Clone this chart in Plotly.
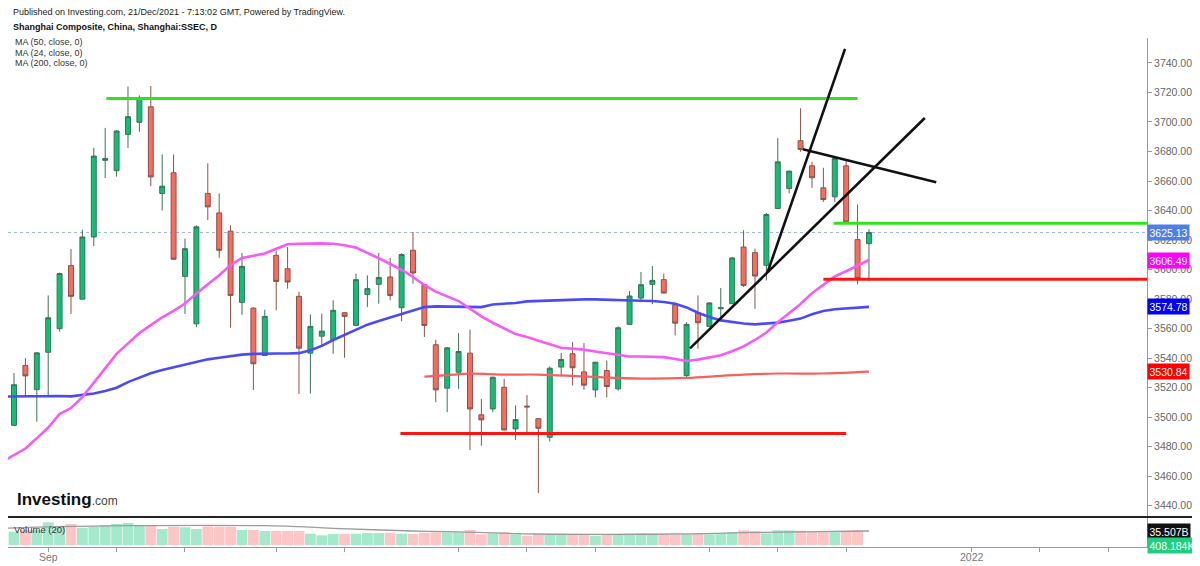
import plotly.graph_objects as go

# Shanghai Composite daily candles, 26 Aug - 21 Dec 2021 (bar index 1..77)
bar_idx = list(range(1, 78))
opens = [3537.3, 3494.5, 3535.0, 3518.7, 3544.0, 3560.0, 3602.7, 3580.0, 3622.1, 3674.0,
         3667.0, 3691.6, 3699.8, 3710.3, 3651.6, 3665.6, 3595.4, 3563.3, 3651.6, 3638.4,
         3626.0, 3577.8, 3573.9, 3541.8, 3609.7, 3600.6, 3581.9, 3543.4, 3554.9, 3552.5,
         3570.8, 3562.2, 3583.2, 3590.0, 3595.0, 3574.2, 3613.1, 3589.8, 3549.1, 3519.7,
         3530.5, 3543.4, 3501.6, 3505.6, 3520.3, 3492.1, 3507.5, 3499.0, 3486.4, 3534.0,
         3543.0, 3530.7, 3518.5, 3531.6, 3519.2, 3562.9, 3580.7, 3590.0, 3593.2, 3576.2,
         3528.2, 3570.5, 3561.5, 3573.5, 3576.9, 3615.3, 3611.5, 3602.9, 3641.4, 3655.0,
         3687.3, 3670.3, 3655.4, 3649.3, 3670.3, 3620.3, 3617.6]
highs = [3541.0, 3530.0, 3540.0, 3544.0, 3582.5, 3598.0, 3614.0, 3627.0, 3682.5, 3696.0,
         3694.5, 3724.0, 3718.0, 3724.4, 3678.0, 3678.0, 3621.0, 3630.0, 3672.0, 3651.6,
         3630.0, 3611.3, 3574.5, 3572.8, 3613.0, 3615.3, 3585.0, 3569.6, 3570.1, 3579.2,
         3571.0, 3597.3, 3596.1, 3611.3, 3607.9, 3611.0, 3625.5, 3590.0, 3552.5, 3547.5,
         3557.0, 3559.3, 3512.4, 3527.5, 3526.0, 3508.0, 3515.0, 3499.5, 3534.4, 3543.6,
         3550.9, 3550.2, 3537.5, 3538.4, 3561.5, 3585.5, 3598.4, 3602.5, 3597.3, 3576.5,
         3564.4, 3582.5, 3578.0, 3587.5, 3608.6, 3626.7, 3614.2, 3638.4, 3689.0, 3667.0,
         3709.3, 3673.0, 3669.0, 3676.4, 3673.5, 3644.1, 3627.3]
lows = [3500.0, 3494.0, 3514.0, 3497.0, 3515.0, 3558.0, 3570.0, 3580.0, 3616.0, 3662.0,
        3663.0, 3682.5, 3693.4, 3656.5, 3640.0, 3607.0, 3570.0, 3561.0, 3633.5, 3608.0,
        3560.6, 3569.4, 3518.5, 3541.5, 3572.4, 3587.1, 3515.8, 3516.0, 3548.6, 3543.0,
        3540.3, 3562.0, 3574.6, 3576.9, 3579.2, 3565.0, 3590.5, 3554.3, 3510.1, 3503.4,
        3519.2, 3477.8, 3480.7, 3503.4, 3491.0, 3484.6, 3489.0, 3448.6, 3483.5, 3527.6,
        3521.5, 3518.5, 3513.5, 3513.5, 3518.0, 3562.9, 3578.0, 3576.6, 3584.0, 3555.4,
        3527.0, 3546.4, 3561.0, 3567.8, 3576.9, 3588.2, 3573.5, 3592.7, 3641.0, 3651.6,
        3679.8, 3655.4, 3645.9, 3645.9, 3632.0, 3590.0, 3592.3]
closes = [3502.2, 3522.0, 3528.0, 3543.6, 3567.4, 3597.3, 3581.9, 3622.1, 3676.9, 3675.3,
          3693.9, 3703.6, 3716.0, 3662.8, 3656.5, 3607.0, 3614.2, 3629.0, 3642.5, 3613.1,
          3582.5, 3602.2, 3536.2, 3568.3, 3592.0, 3591.6, 3546.8, 3561.5, 3558.3, 3572.4,
          3568.3, 3593.2, 3587.1, 3594.7, 3582.5, 3610.2, 3597.7, 3562.2, 3518.5, 3547.0,
          3544.5, 3505.6, 3498.2, 3527.1, 3491.4, 3498.4, 3507.0, 3492.5, 3533.2, 3539.1,
          3533.5, 3521.7, 3537.3, 3520.8, 3560.6, 3582.1, 3589.8, 3592.7, 3584.1, 3563.7,
          3562.9, 3564.0, 3577.4, 3574.2, 3607.9, 3589.3, 3595.6, 3637.3, 3673.0, 3666.7,
          3681.4, 3662.2, 3647.5, 3675.3, 3632.3, 3593.9, 3625.13]

# volume in billions
volumes = [42.4, 33.7, 38.0, 38.0, 57.6, 48.9, 53.3, 43.9, 46.4, 50.7,
           53.3, 55.8, 48.9, 48.9, 40.6, 46.4, 44.9, 40.6, 47.4, 46.4,
           46.4, 38.0, 38.0, 35.5, 35.5, 35.5, 35.5, 28.7, 24.6, 27.9,
           27.9, 28.7, 30.4, 30.4, 31.2, 28.7, 27.9, 31.2, 32.2, 32.2,
           32.2, 38.0, 27.1, 29.7, 32.2, 27.1, 23.6, 27.1, 27.1, 25.4,
           27.1, 27.1, 23.6, 27.1, 27.1, 28.7, 29.7, 28.7, 25.4, 25.4,
           27.1, 29.7, 27.1, 29.7, 32.2, 37.3, 35.5, 29.7, 37.3, 37.3,
           36.3, 32.2, 32.2, 32.2, 35.5, 37.3, 0.000408]
vol_ma_idx = [1, 6, 12, 24, 27, 30, 37, 40, 48, 60, 66, 77]
vol_ma = [42.4, 46.4, 48.9, 48.9, 46.4, 42.4, 35.5, 33.7, 27.9, 27.9, 31.2, 35.507]

ma24 = [3470.0, 3474.3, 3478.8, 3485.7, 3493.0, 3502.1, 3506.2, 3513.6, 3523.4, 3533.8,
        3542.9, 3550.0, 3557.0, 3562.4, 3567.7, 3572.1, 3577.0, 3583.8, 3590.0, 3596.2,
        3603.1, 3607.9, 3609.4, 3610.9, 3614.1, 3617.2, 3617.5, 3617.8, 3617.8, 3617.5,
        3616.5, 3614.9, 3611.5, 3607.7, 3603.8, 3599.9, 3595.0, 3589.6, 3585.1, 3581.9,
        3578.7, 3573.6, 3568.3, 3564.0, 3559.9, 3556.3, 3554.3, 3552.1, 3549.5, 3547.1,
        3546.5, 3545.8, 3544.5, 3543.2, 3542.0, 3541.1, 3541.1, 3541.1, 3540.7, 3539.4,
        3538.1, 3539.0, 3540.7, 3542.0, 3544.7, 3548.0, 3552.3, 3557.4, 3564.3, 3570.4,
        3576.7, 3584.0, 3589.9, 3595.4, 3598.9, 3602.6, 3606.49]
ma50 = [3514.0, 3514.1, 3514.3, 3514.5, 3514.7, 3514.4, 3514.1, 3514.9, 3516.1, 3517.7,
        3520.0, 3523.8, 3527.0, 3529.8, 3532.0, 3533.9, 3535.4, 3537.3, 3539.2, 3540.3,
        3541.4, 3542.4, 3542.9, 3543.2, 3543.2, 3543.2, 3543.4, 3545.4, 3548.3, 3552.3,
        3555.8, 3559.2, 3562.7, 3565.2, 3567.6, 3569.9, 3572.6, 3574.6, 3575.1, 3575.1,
        3575.1, 3574.7, 3574.6, 3576.4, 3576.8, 3577.4, 3578.5, 3578.8, 3579.1, 3579.4,
        3579.8, 3579.8, 3579.8, 3579.7, 3579.4, 3579.2, 3578.9, 3578.7, 3578.1, 3576.9,
        3574.4, 3570.8, 3567.9, 3565.6, 3564.3, 3563.5, 3562.9, 3563.5, 3564.1, 3565.4,
        3566.8, 3569.8, 3571.9, 3573.1, 3573.5, 3574.0, 3574.78]
ma200_idx = [38, 40, 42, 45, 48, 51, 54, 57, 61, 64, 66, 69, 73, 77]
ma200 = [3527.5, 3528.5, 3529.5, 3528.9, 3528.9, 3528.0, 3526.8, 3526.2, 3526.6,
         3528.0, 3528.9, 3529.6, 3529.6, 3530.84]

# drawn support / resistance levels
level_price = [3715.9, 3488.9, 3631.4, 3593.4]
level_from = [10.1, 35.9, 73.9, 73.0]
level_to = [76.0, 75.0, 102.0, 102.0]
level_color = ["#2ee51c", "#ff1414", "#2ee51c", "#ff1414"]

# drawn trend lines
trend_x0 = [61.3, 68.1, 71.2]
trend_y0 = [3546.6, 3598.1, 3681.6]
trend_x1 = [81.9, 74.9, 82.9]
trend_y1 = [3702.7, 3749.5, 3659.2]

tick_idx = [5, 11, 17, 25, 31, 41, 47, 53, 63, 69, 75, 86, 92, 98]
tick_text = ["Sep", "", "", "", "", "", "", "", "", "", "", "2022", "", ""]
price_ticks = list(range(3440, 3741, 20))

FONT = "Liberation Sans, Arial, sans-serif"
GREEN = "#0cc075"
RED = "#fb6b5c"

# the page adds an 8px body margin, so the figure is laid out in page pixels minus 8
W, H, OFF = 1192, 558, 8


def px(x):
    return (x - OFF) / W


def py(y):
    return 1 - (y - OFF) / H


fig = go.Figure()

# volume pane
vol_colors = ["#a5e9cd" if c >= o else "#fdc5c5" for o, c in zip(opens, closes)]
fig.add_trace(go.Bar(x=bar_idx, y=volumes, marker=dict(color=vol_colors, line=dict(width=0)),
                     width=0.95, yaxis="y2", hoverinfo="skip"))
fig.add_trace(go.Scatter(x=vol_ma_idx, y=vol_ma, mode="lines",
                         line=dict(color="#9c9c9c", width=1.3, shape="spline"),
                         yaxis="y2", hoverinfo="skip"))

# moving averages
fig.add_trace(go.Scatter(x=bar_idx, y=ma50, mode="lines", line=dict(color="#4b4bf5", width=2.6)))
fig.add_trace(go.Scatter(x=bar_idx, y=ma24, mode="lines", line=dict(color="#f55cf5", width=2.6)))
fig.add_trace(go.Scatter(x=ma200_idx, y=ma200, mode="lines",
                         line=dict(color="#f76060", width=2.2, shape="spline")))

# candles
fig.add_trace(go.Candlestick(
    x=bar_idx, open=opens, high=highs, low=lows, close=closes,
    increasing=dict(fillcolor=GREEN, line=dict(color="#3f7058", width=1)),
    decreasing=dict(fillcolor=RED, line=dict(color="#8a5249", width=1)),
    whiskerwidth=0,
))

# levels and trend lines
for p, a, b, c in zip(level_price, level_from, level_to, level_color):
    fig.add_trace(go.Scatter(x=[a, b], y=[p, p], mode="lines", line=dict(color=c, width=3),
                             hoverinfo="skip"))
for a, b, c, d in zip(trend_x0, trend_y0, trend_x1, trend_y1):
    fig.add_trace(go.Scatter(x=[a, c], y=[b, d], mode="lines",
                             line=dict(color="#111111", width=2.6), hoverinfo="skip"))

x_right = px(1147)
fig.update_layout(
    width=W, height=H,
    margin=dict(l=0, r=0, t=0, b=0),
    paper_bgcolor="white", plot_bgcolor="white",
    showlegend=False,
    boxgap=0.38,
    font=dict(family=FONT, color="#333"),
    xaxis=dict(domain=[0, x_right], range=[1.474, 101.39], anchor="y2",
               tickvals=tick_idx, showticklabels=False, ticks="outside", ticklen=4,
               tickcolor="#999", showline=True, linecolor="#999", linewidth=1,
               showgrid=False, zeroline=False, rangeslider=dict(visible=False),
               automargin=False),
    yaxis=dict(domain=[py(517), py(38)], range=[3432.4, 3756.9], anchor="x",
               side="right", tickvals=price_ticks, tickformat=".2f", ticks="outside",
               ticklen=4, tickcolor="#999", showline=True, linecolor="#999",
               showgrid=False, zeroline=False, tickfont=dict(size=10.5, color="#666"),
               automargin=False),
    yaxis2=dict(domain=[py(547), py(517)], range=[-5.07, 71.0], anchor="x",
                side="right", showticklabels=False, showline=True, linecolor="#999",
                showgrid=False, zeroline=False, automargin=False),
)

# date labels under the ticks
for v, t in zip(tick_idx, tick_text):
    if t:
        fig.add_annotation(x=v, xref="x", y=py(557), yref="paper", text=t, showarrow=False,
                           xanchor="center", yanchor="middle",
                           font=dict(size=10.5, color="#777", family=FONT))

# last price dotted line
fig.add_shape(type="line", xref="x domain", yref="y", x0=0, x1=1, y0=closes[-1], y1=closes[-1],
              line=dict(color="#9fb5ee", width=1, dash="dot"), layer="below")
# pane separator
fig.add_shape(type="line", xref="paper", yref="paper", x0=0, x1=px(1197),
              y0=py(517), y1=py(517), line=dict(color="#222", width=2))

# value tags on the price scale
tags = [(closes[-1], "#4f7ee6"), (ma24[-1], "#ff00ff"), (ma50[-1], "#0000ff"), (ma200[-1], "#ff0000")]
for val, col in tags:
    fig.add_annotation(x=x_right, xref="paper", y=val, yref="y", text=f"{val:.2f}",
                       showarrow=False, xanchor="left", bgcolor=col, borderpad=1.5,
                       font=dict(size=10.5, color="white", family=FONT))
fig.add_annotation(x=x_right, xref="paper", y=vol_ma[-1], yref="y2", text="35.507B",
                   showarrow=False, xanchor="left", bgcolor="#111", borderpad=1.5,
                   font=dict(size=10.5, color="white", family=FONT))
fig.add_annotation(x=x_right, xref="paper", y=volumes[-1] - 1.5, yref="y2", text="408.184K",
                   showarrow=False, xanchor="left", bgcolor="#1fcf80", borderpad=1.5,
                   font=dict(size=10.5, color="white", family=FONT))

# header texts
fig.add_annotation(x=px(11), y=py(12.5), xref="paper", yref="paper", xanchor="left",
                   yanchor="middle", showarrow=False,
                   text="Published on Investing.com, 21/Dec/2021 - 7:13:02 GMT, Powered by TradingView.",
                   font=dict(size=9, color="#222", family=FONT))
fig.add_annotation(x=px(11), y=py(27), xref="paper", yref="paper", xanchor="left",
                   yanchor="middle", showarrow=False,
                   text="<b>Shanghai Composite, China, Shanghai:SSEC, D</b>",
                   font=dict(size=9, color="#111", family=FONT))
for i, t in enumerate(["MA (50, close, 0)", "MA (24, close, 0)", "MA (200, close, 0)"]):
    fig.add_annotation(x=px(13), y=py(42.5 + 10 * i), xref="paper", yref="paper",
                       xanchor="left", yanchor="middle", showarrow=False, text=t,
                       font=dict(size=9, color="#333", family=FONT))
fig.add_annotation(x=px(12), y=py(529), xref="paper", yref="paper", xanchor="left",
                   yanchor="middle", showarrow=False, text="Volume (20)",
                   font=dict(size=9.5, color="#333", family=FONT))
fig.add_annotation(x=px(15), y=py(499), xref="paper", yref="paper", xanchor="left",
                   yanchor="middle", showarrow=False,
                   text="<b>Investing</b><span style='font-size:12px;color:#444'>.com</span>",
                   font=dict(size=17, color="#111", family=FONT))

fig.write_html("out.html")
